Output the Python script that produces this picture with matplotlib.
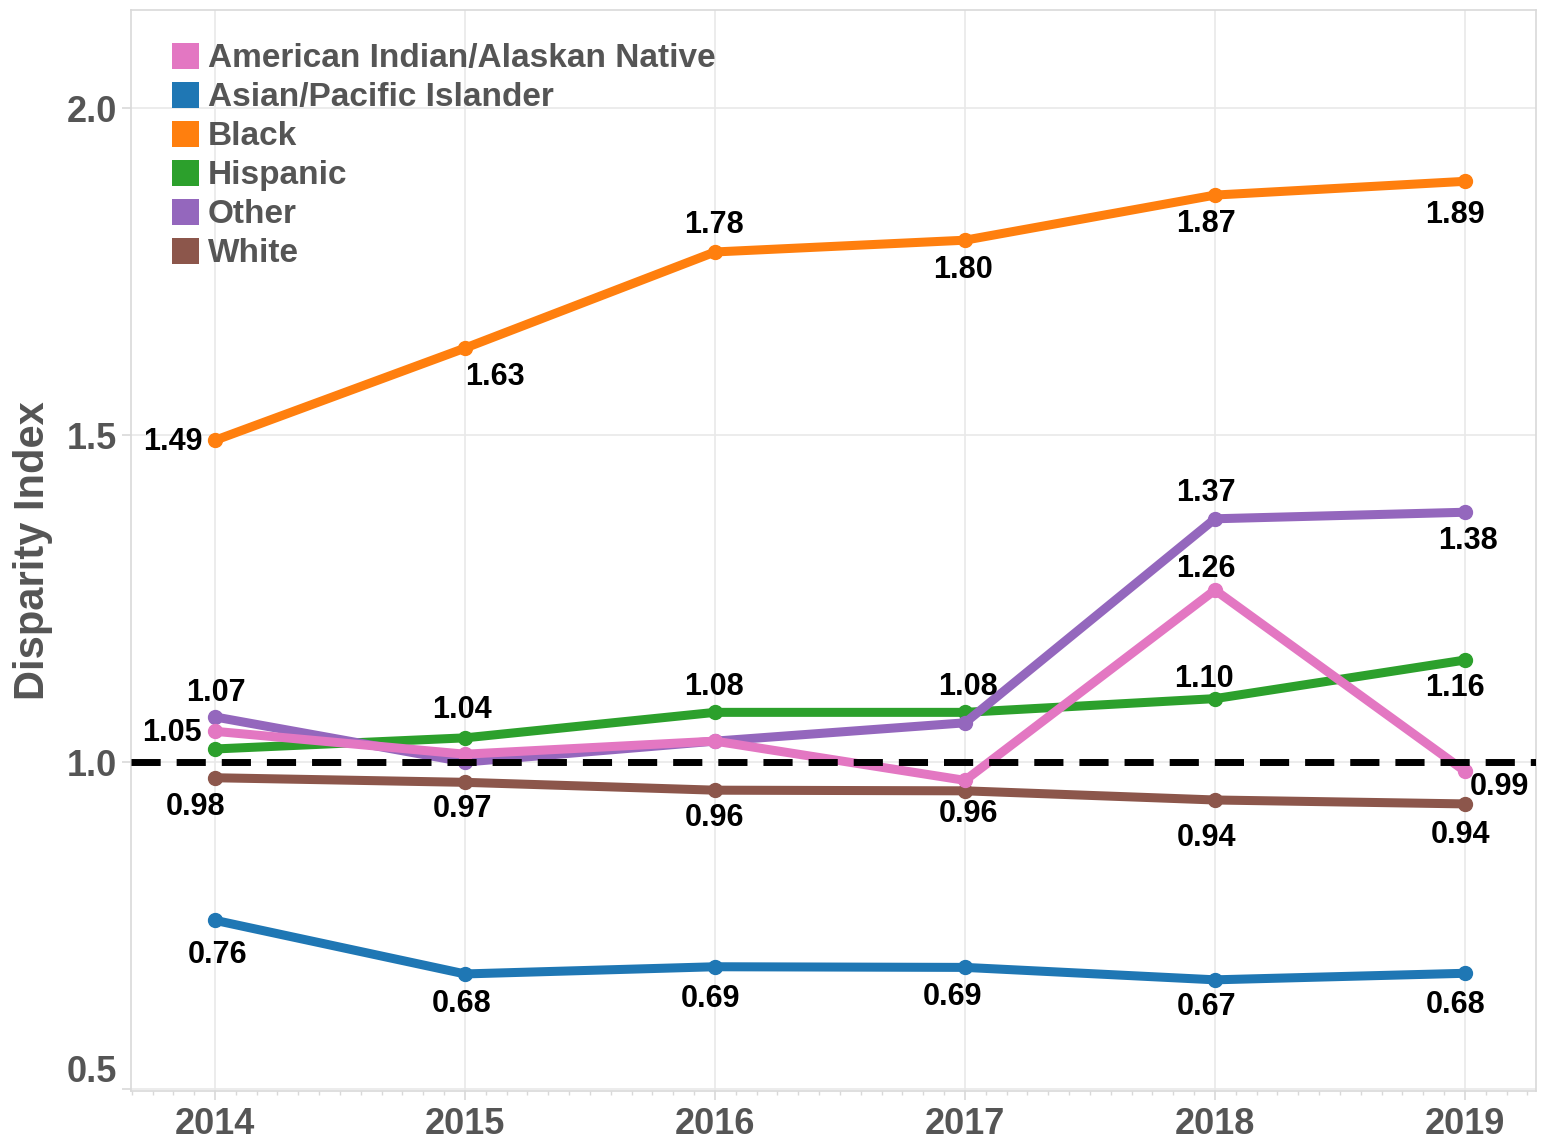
import matplotlib
matplotlib.use("Agg")
import matplotlib.pyplot as plt
from matplotlib.patches import Patch
from matplotlib.transforms import ScaledTranslation
import numpy as np

plt.rcParams['font.family'] = ['Liberation Sans', 'DejaVu Sans']
plt.rcParams['font.weight'] = 'bold'

years = [2014, 2015, 2016, 2017, 2018, 2019]
series_names = ["American Indian/Alaskan Native", "Asian/Pacific Islander", "Black",
                "Hispanic", "Other", "White"]

aian     = [1.047, 1.012, 1.032, 0.972, 1.263, 0.986]
asian    = [0.758, 0.676, 0.687, 0.686, 0.667, 0.677]
black    = [1.492, 1.633, 1.780, 1.798, 1.867, 1.888]
hispanic = [1.020, 1.037, 1.076, 1.076, 1.097, 1.156]
other    = [1.069, 1.000, 1.032, 1.060, 1.372, 1.382]
white    = [0.976, 0.969, 0.957, 0.956, 0.942, 0.936]

# which points carry a value label
aian_lab     = [True, False, False, False, True, True]
asian_lab    = [True, True, True, True, True, True]
black_lab    = [True, True, True, True, True, True]
hispanic_lab = [False, True, True, True, True, True]
other_lab    = [True, False, False, False, True, True]
white_lab    = [True, True, True, True, True, True]

y_ticks = [0.5, 1.0, 1.5, 2.0]
y_tick_labels = ["0.5", "1.0", "1.5", "2.0"]
reference_value = 1.0

colors = ["#e377c2", "#1f77b4", "#ff7f0e", "#2ca02c", "#9467bd", "#8c564b"]
values = [aian, asian, black, hispanic, other, white]
labflags = [aian_lab, asian_lab, black_lab, hispanic_lab, other_lab, white_lab]
zorders = [6, 5, 4, 2, 3, 1]

# label offsets in pixels (dx right, dy down)
offsets = [
    [(-43, 0), None, None, None, (-9, -23), (34, 14)],
    [(3, 33), (-3, 28), (-5, 30), (-12, 28), (-8, 25), (-9, 30)],
    [(-42, 0), (30, 27), (-1, -29), (-2, 28), (-9, 27), (-10, 32)],
    [None, (-3, -30), (-1, -27), (3, -27), (-11, -22), (-10, 26)],
    [(1, -26), None, None, None, (-9, -28), (3, 27)],
    [(-19, 27), (-3, 25), (-1, 26), (3, 21), (-8, 36), (-4, 29)],
]

W, H = 1543, 1141
fig = plt.figure(figsize=(W / 100, H / 100), dpi=100)
ax = fig.add_axes([131 / W, 1 - 1091 / H, (1536 - 131) / W, (1091 - 10) / H])

grey_txt = "#555555"
grid_c = "#e9e9e9"
spine_c = "#d9d9d9"

ax.set_xlim(2013.664, 2019.284)
ax.set_ylim(0.497, 2.150)

ax.set_xticks(years)
ax.set_xticklabels([str(y) for y in years])
ax.set_xticks(np.arange(2013 + 8 / 12, 2019.3, 1 / 12), minor=True)
ax.set_yticks(y_ticks)
ax.set_yticklabels(y_tick_labels)

ax.grid(True, which='major', color=grid_c, linewidth=1.2, zorder=0)
ax.set_axisbelow(True)
for s in ax.spines.values():
    s.set_color(spine_c)
    s.set_linewidth(1.2)

ax.tick_params(axis='x', which='major', length=6.5, width=1.2, color=spine_c,
               labelsize=26, labelcolor=grey_txt, pad=5)
ax.tick_params(axis='x', which='minor', length=3, width=1.0, color=spine_c)
ax.tick_params(axis='y', which='major', length=6.5, width=1.2, color=spine_c,
               labelsize=26, labelcolor=grey_txt, pad=3.6)
for lab in ax.get_xticklabels() + ax.get_yticklabels():
    lab.set_fontweight('bold')

# shift the 0.5 label up like the reference
lbl0 = ax.get_yticklabels()[0]
lbl0.set_transform(lbl0.get_transform() + ScaledTranslation(0, 21 / 100, fig.dpi_scale_trans))

ax.set_ylabel("Disparity Index", fontsize=30, fontweight='bold', color=grey_txt, labelpad=10)

for name, vals, col, z, flags, offs in zip(series_names, values, colors, zorders, labflags, offsets):
    ax.plot(years, vals, color=col, lw=6.5, marker='o', ms=10, solid_capstyle='round',
            solid_joinstyle='round', zorder=z, label=name)
    for x, v, f, o in zip(years, vals, flags, offs):
        if f and o is not None:
            ax.annotate(f"{v:.2f}", (x, v), xytext=(o[0] * 0.72, -(o[1] + 2) * 0.72),
                        textcoords='offset points', ha='center', va='center',
                        fontsize=22, fontweight='bold', color='black', zorder=20)

ax.axhline(reference_value, color='black', lw=5, linestyle=(0, (4.2, 2.3)), zorder=10)

handles = [Patch(facecolor=c, edgecolor='none') for c in colors]
leg = ax.legend(handles, series_names, loc='upper left',
                bbox_to_anchor=(172 / W, 1 - 43 / H), bbox_transform=fig.transFigure,
                frameon=False, fontsize=24, handlelength=0.8, handleheight=0.8,
                handletextpad=0.28, labelspacing=0.23, borderpad=0, borderaxespad=0)
for t in leg.get_texts():
    t.set_color(grey_txt)
    t.set_fontweight('bold')

fig.savefig("out.png", dpi=100, facecolor='white')
